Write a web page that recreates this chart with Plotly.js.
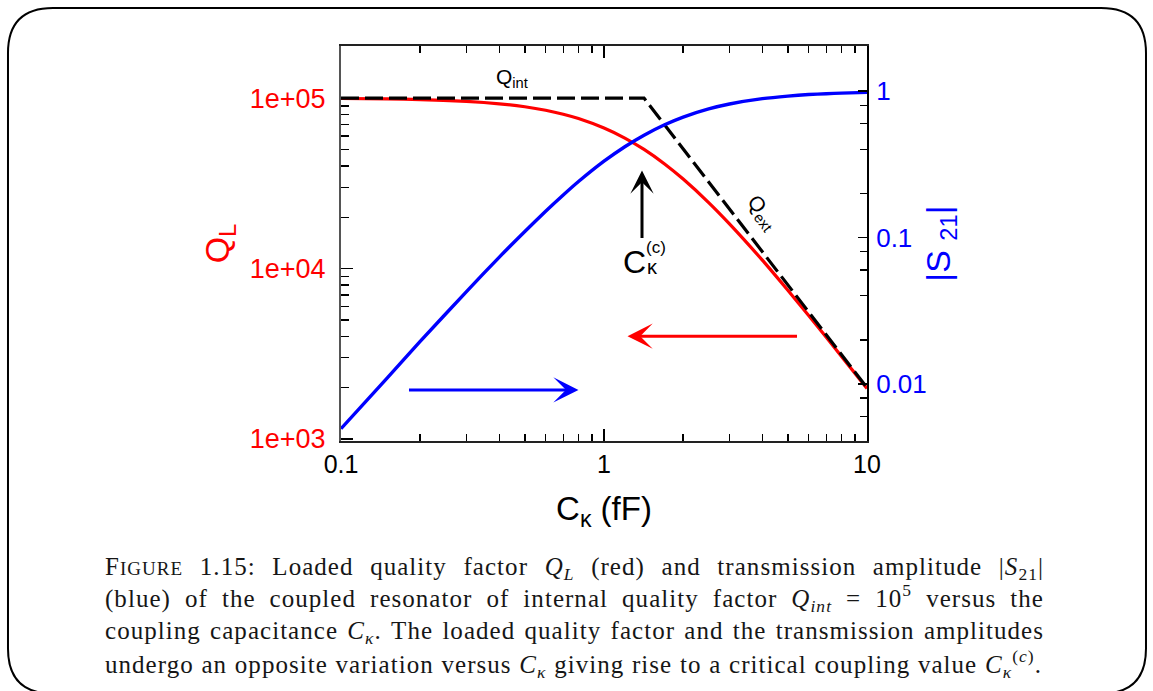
<!DOCTYPE html>
<html>
<head>
<meta charset="utf-8">
<script src="https://cdn.plot.ly/plotly-3.0.1.min.js"></script>
<style>html,body{margin:0;padding:0;background:#fff;}#chart{width:1153px;height:691px;}</style>
</head>
<body>
<div id="chart"></div>
<script>
// ---- data ----
const capacitance = [0.1, 0.15, 0.2, 0.3, 0.4, 0.5, 0.6, 0.7, 0.8, 1.0, 1.2, 1.42, 1.7, 2, 2.5, 3, 4, 5, 6, 7, 8, 10];
const loadedQ = [99500, 98900, 98100, 95700, 92600, 89000, 84900, 80500, 75900, 66800, 58300, 50000, 41100, 33500, 24400, 18300, 11200, 7460, 5300, 3950, 3050, 1980];
const s21 = [0.00494, 0.0110, 0.0195, 0.0427, 0.0735, 0.110, 0.151, 0.195, 0.241, 0.332, 0.417, 0.500, 0.589, 0.665, 0.756, 0.817, 0.888, 0.925, 0.947, 0.960, 0.969, 0.980];
const limitC = [0.1, 1.42, 10];
const limitQ = [100000, 100000, 2000];

const xTickVals = [0.1, 1, 10];
const xTickText = ['0.1', '1', '10'];
const xMinor = [0.2, 0.3, 0.4, 0.5, 0.6, 0.7, 0.8, 0.9, 2, 3, 4, 5, 6, 7, 8, 9];
const qTickVals = [1e3, 1e4, 1e5];
const qTickText = ['1e+03', '1e+04', '1e+05'];
const qMinor = [2e3, 3e3, 4e3, 5e3, 6e3, 7e3, 8e3, 9e3, 2e4, 3e4, 4e4, 5e4, 6e4, 7e4, 8e4, 9e4];
const sTickVals = [0.01, 0.1, 1];
const sTickText = ['0.01', '0.1', '1'];
const sMinor = [0.006, 0.008, 0.02, 0.04, 0.06, 0.08, 0.2, 0.4, 0.6, 0.8];

const captionLines = [
  'F<span style="font-size:19px">IGURE</span> 1.15: Loaded quality factor <i>Q</i><sub><i>L</i></sub> (red) and transmission amplitude |<i>S</i><sub>21</sub>|',
  '(blue) of the coupled resonator of internal quality factor <i>Q</i><sub><i>int</i></sub> = 10<sup>5</sup> versus the',
  'coupling capacitance <i>C</i><sub><i>κ</i></sub>. The loaded quality factor and the transmission amplitudes',
  'undergo an opposite variation versus <i>C</i><sub><i>κ</i></sub> giving rise to a critical coupling value <i>C</i><sub><i>κ</i></sub><sup>(<i>c</i>)</sup>.'
];
const captionY = [-0.3223, -0.3977, -0.4860, -0.5635];
const captionWidth = [939, 939, 939, 937];

// ---- traces ----
const traces = [
  {x: capacitance, y: loadedQ, type: 'scatter', mode: 'lines', yaxis: 'y',
   line: {color: '#ff0000', width: 3.2, shape: 'spline', smoothing: 0.6}, hoverinfo: 'skip'},
  {x: limitC, y: limitQ, type: 'scatter', mode: 'lines', yaxis: 'y',
   line: {color: '#000000', width: 3.2, dash: '18px,6px'}, hoverinfo: 'skip'},
  {x: capacitance, y: s21, type: 'scatter', mode: 'lines', yaxis: 'y2',
   line: {color: '#0000ff', width: 3.4, shape: 'spline', smoothing: 0.6}, hoverinfo: 'skip'}
];

// ---- frame around the figure (paper coordinates) ----
const bx0 = -0.6331, bx1 = 1.5304, byT = 1.0964, byB = -0.6396, rx = 0.0856, ry = 0.1142;
const framePath = 'M' + (bx0 + rx) + ',' + byT + ' L' + (bx1 - rx) + ',' + byT +
  ' Q' + bx1 + ',' + byT + ' ' + bx1 + ',' + (byT - ry) +
  ' L' + bx1 + ',' + (byB + ry) + ' Q' + bx1 + ',' + byB + ' ' + (bx1 - rx) + ',' + byB +
  ' L' + (bx0 + rx) + ',' + byB + ' Q' + bx0 + ',' + byB + ' ' + bx0 + ',' + (byB + ry) +
  ' L' + bx0 + ',' + (byT - ry) + ' Q' + bx0 + ',' + byT + ' ' + (bx0 + rx) + ',' + byT + ' Z';

const sansFont = 'Liberation Sans, Arial, sans-serif';
const serifFont = 'Liberation Serif, Times New Roman, serif';

const annotations = [
  {x: -0.348, y: 5.118, xref: 'x', yref: 'y', text: 'Q<sub>int</sub>', showarrow: false,
   font: {family: sansFont, size: 21, color: '#000'}},
  {x: 0.599, y: 4.329, xref: 'x', yref: 'y', text: 'Q<sub>ext</sub>', showarrow: false, textangle: 52,
   font: {family: sansFont, size: 21, color: '#000'}},
  // critical coupling arrow
  {x: 0.1445, y: 4.576, xref: 'x', yref: 'y', text: '', showarrow: true, ax: 0, ay: 69,
   arrowhead: 3, arrowsize: 1.3, arrowwidth: 3, arrowcolor: '#000', standoff: 0},
  {x: 0.116, y: 4.038, xref: 'x', yref: 'y', text: 'C', showarrow: false,
   font: {family: sansFont, size: 32, color: '#000'}},
  {x: 0.1844, y: 4.010, xref: 'x', yref: 'y', text: 'κ', showarrow: false,
   font: {family: sansFont, size: 20, color: '#000'}},
  {x: 0.1958, y: 4.124, xref: 'x', yref: 'y', text: '(c)', showarrow: false,
   font: {family: sansFont, size: 17, color: '#000'}},
  // red arrow (pointing left)
  {x: 0.0894, y: 3.603, xref: 'x', yref: 'y', text: '', showarrow: true, ax: 171, ay: 0,
   arrowhead: 3, arrowsize: 1.4, arrowwidth: 3, arrowcolor: '#ff0000', standoff: 0},
  // blue arrow (pointing right)
  {x: -0.097, y: 3.288, xref: 'x', yref: 'y', text: '', showarrow: true, ax: -171, ay: 0,
   arrowhead: 3, arrowsize: 1.4, arrowwidth: 3, arrowcolor: '#0000ff', standoff: 0}
];
const captionStart = annotations.length;
captionLines.forEach(function (t, k) {
  annotations.push({x: -0.4525, y: captionY[k], xref: 'paper', yref: 'paper', text: t,
    showarrow: false, xanchor: 'left', yanchor: 'middle', align: 'left',
    font: {family: serifFont, size: 25, color: '#161616'}});
});

const layout = {
  width: 1153, height: 691,
  margin: {l: 341, r: 286, t: 46, b: 250},
  paper_bgcolor: '#ffffff', plot_bgcolor: '#ffffff',
  showlegend: false,
  font: {family: sansFont, color: '#000'},
  xaxis: {
    type: 'log', range: [-1, 1], automargin: false,
    tickmode: 'array', tickvals: xTickVals, ticktext: xTickText,
    ticks: 'inside', ticklen: 12, tickwidth: 1.5, tickcolor: '#000',
    minor: {tickmode: 'array', tickvals: xMinor, ticks: 'inside', ticklen: 7, tickwidth: 1.5, tickcolor: '#000', showgrid: false},
    showline: true, linecolor: '#222', linewidth: 2, mirror: 'ticks',
    showgrid: false, zeroline: false,
    tickfont: {family: sansFont, size: 25, color: '#000'}, ticklabelstandoff: 0,
    title: {text: 'C<sub>κ</sub> (fF)', font: {family: sansFont, size: 33, color: '#000'}, standoff: 20}
  },
  yaxis: {
    type: 'log', range: [2.9882, 5.3059], automargin: false,
    tickmode: 'array', tickvals: qTickVals, ticktext: qTickText,
    ticks: 'inside', ticklen: 12, tickwidth: 1.5, tickcolor: '#000',
    minor: {tickmode: 'array', tickvals: qMinor, ticks: 'inside', ticklen: 8, tickwidth: 1.5, tickcolor: '#000', showgrid: false},
    showline: true, linecolor: '#555', linewidth: 2,
    showgrid: false, zeroline: false,
    tickfont: {family: sansFont, size: 27, color: '#ff0000'}, ticklabelstandoff: 8,
    title: {text: 'Q<sub>L</sub>', font: {family: sansFont, size: 34, color: '#ff0000'}, standoff: 10}
  },
  yaxis2: {
    type: 'log', range: [-2.3904, 0.3082], overlaying: 'y', side: 'right', anchor: 'x', automargin: false,
    tickmode: 'array', tickvals: sTickVals, ticktext: sTickText,
    ticks: 'inside', ticklen: 9, tickwidth: 1.5, tickcolor: '#000',
    minor: {tickmode: 'array', tickvals: sMinor, ticks: 'inside', ticklen: 7, tickwidth: 1.5, tickcolor: '#000', showgrid: false},
    showline: true, linecolor: '#000', linewidth: 2,
    showgrid: false, zeroline: false,
    tickfont: {family: sansFont, size: 26, color: '#0000ff'}, ticklabelstandoff: 2,
    title: {text: '|S <sub>21</sub>|', font: {family: sansFont, size: 34, color: '#0000ff'}, standoff: 0}
  },
  shapes: [
    {type: 'path', xref: 'paper', yref: 'paper', path: framePath, line: {color: '#000', width: 2}, layer: 'above'}
  ],
  annotations: annotations
};

const gd = document.getElementById('chart');
Plotly.newPlot(gd, traces, layout, {staticPlot: true, displayModeBar: false}).then(function () {
  // justify caption lines: common letter spacing, per-line word spacing
  const info = captionLines.map(function (line, k) {
    const idx = captionStart + k;
    const el = gd.querySelector('.annotation[data-index="' + idx + '"] .annotation-text');
    const plain = line.replace(/<[^>]+>/g, '');
    return {idx: idx, w: el ? el.getBBox().width : 0, n: (plain.match(/ /g) || []).length, c: plain.length};
  });
  const ref = info[2];
  let ls = (captionWidth[2] - ref.w - 2.0 * ref.n) / ref.c;
  if (!(ls > 0)) ls = 0;
  const upd = {};
  info.forEach(function (d, k) {
    const ws = (captionWidth[k] - d.w - ls * d.c) / d.n;
    upd['annotations[' + d.idx + '].text'] = '<span style="letter-spacing:' + ls.toFixed(3) + 'px;word-spacing:' + ws.toFixed(2) + 'px">' + captionLines[k] + '</span>';
  });
  return Plotly.relayout(gd, upd);
});
</script>
</body>
</html>
